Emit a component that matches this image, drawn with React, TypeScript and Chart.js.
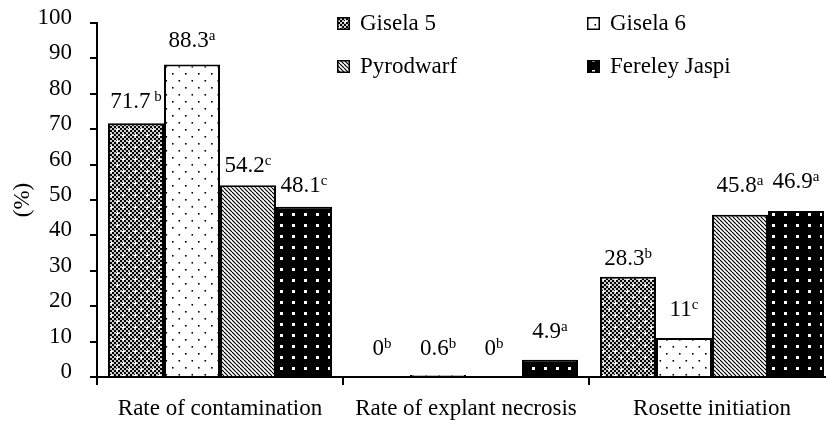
import React, { useEffect, useRef } from 'react';
import { Chart, registerables } from 'chart.js';

Chart.register(...registerables);

// ---- data ----
const categories = ['Rate of contamination', 'Rate of explant necrosis', 'Rosette initiation'];
const seriesNames = ['Gisela 5', 'Gisela 6', 'Pyrodwarf', 'Fereley Jaspi'];
const gisela5 = [71.7, 0, 28.3];
const gisela6 = [88.3, 0.6, 11];
const pyrodwarf = [54.2, 0, 45.8];
const fereleyJaspi = [48.1, 4.9, 46.9];
const gisela5Letters = [' b', 'b', 'b'];
const gisela6Letters = ['a', 'b', 'c'];
const pyrodwarfLetters = ['c', 'b', 'a'];
const fereleyJaspiLetters = ['c', 'a', 'a'];
const yTicks = [0, 10, 20, 30, 40, 50, 60, 70, 80, 90, 100];
const yTitle = '(%)';

// ---- style ----
const FONT = '"Liberation Serif", "Times New Roman", serif';
const MAIN_SIZE = 23;
const SUP_SIZE = 15;
// label baseline lift above bar top (px), per series, per category
const labelLift = [
  [15, 22, 12],
  [17, 20, 22],
  [13, 22, 23],
  [15, 22, 23],
];

function makePattern(kind: string): CanvasPattern | string {
  const c = document.createElement('canvas');
  const g = c.getContext('2d');
  if (!g) return '#000';
  if (kind === 'checker') {
    c.width = 12; c.height = 12;
    g.fillStyle = '#fff'; g.fillRect(0, 0, 12, 12);
    g.fillStyle = '#000';
    for (let y = 0; y < 12; y += 2)
      for (let x = 0; x < 12; x += 2)
        if (((x + y) / 2) % 2 === 0) g.fillRect(x, y, 2, 2);
    g.fillStyle = 'rgba(0,0,0,0.2)';
    g.fillRect(0, 0, 12, 12);
    g.fillStyle = '#fff';
    g.fillRect(2, 3, 3, 1); g.fillRect(3, 2, 1, 3);
    g.fillRect(8, 9, 3, 1); g.fillRect(9, 8, 1, 3);
  } else if (kind === 'dots') {
    c.width = 13; c.height = 14;
    g.fillStyle = '#fff'; g.fillRect(0, 0, 13, 14);
    g.fillStyle = '#000';
    g.fillRect(3, 3, 1.6, 1.6);
    g.fillRect(9.5, 10, 1.6, 1.6);
  } else if (kind === 'diag') {
    c.width = 4; c.height = 4;
    g.fillStyle = '#fff'; g.fillRect(0, 0, 4, 4);
    g.strokeStyle = '#000';
    g.lineWidth = 1.2;
    for (const o of [-4, 0, 4]) {
      g.beginPath();
      g.moveTo(o, 0);
      g.lineTo(o + 4, 4);
      g.stroke();
    }
  } else {
    c.width = 12; c.height = 11;
    g.fillStyle = '#000'; g.fillRect(0, 0, 12, 11);
    g.fillStyle = '#fff';
    g.fillRect(4, 4, 3, 3);
  }
  const p = g.createPattern(c, 'repeat');
  return p || '#000';
}

export default function App() {
  const ref = useRef<HTMLCanvasElement | null>(null);

  useEffect(() => {
    document.body.style.margin = '0';
    const canvas = ref.current;
    if (!canvas) return;
    let chart: Chart | null = null;
    let cancelled = false;

    const build = () => {
      if (cancelled) return;
      const fills = [makePattern('checker'), makePattern('dots'), makePattern('diag'), makePattern('solid')];
      const values = [gisela5, gisela6, pyrodwarf, fereleyJaspi];
      const letters = [gisela5Letters, gisela6Letters, pyrodwarfLetters, fereleyJaspiLetters];

      const labelPlugin = {
        id: 'valueLabels',
        afterDatasetsDraw(ch: any) {
          const ctx = ch.ctx as CanvasRenderingContext2D;
          ch.data.datasets.forEach((ds: any, di: number) => {
            const meta = ch.getDatasetMeta(di);
            meta.data.forEach((bar: any, i: number) => {
              const main = String(ds.data[i]);
              const sup = letters[di][i];
              ctx.save();
              ctx.fillStyle = '#000';
              ctx.textBaseline = 'alphabetic';
              ctx.textAlign = 'left';
              ctx.font = `${MAIN_SIZE}px ${FONT}`;
              const wm = ctx.measureText(main).width;
              ctx.font = `${SUP_SIZE}px ${FONT}`;
              const ws = ctx.measureText(sup).width;
              const x0 = bar.x - (wm + ws) / 2;
              const base = bar.y - labelLift[di][i];
              ctx.font = `${MAIN_SIZE}px ${FONT}`;
              ctx.fillText(main, x0, base);
              ctx.font = `${SUP_SIZE}px ${FONT}`;
              ctx.fillText(sup, x0 + wm, base - 7);
              ctx.restore();
            });
          });
        },
      };

      const legendPlugin = {
        id: 'gridLegend',
        afterDraw(ch: any) {
          const ctx = ch.ctx as CanvasRenderingContext2D;
          const colX = [337, 587];
          const rowBase = [30, 73];
          ch.data.datasets.forEach((ds: any, i: number) => {
            const bx = colX[i % 2];
            const base = rowBase[Math.floor(i / 2)];
            const size = 13;
            ctx.save();
            ctx.fillStyle = ds.backgroundColor;
            ctx.fillRect(bx, base - size, size, size);
            ctx.strokeStyle = '#000';
            ctx.lineWidth = 1.5;
            ctx.strokeRect(bx + 0.75, base - size + 0.75, size - 1.5, size - 1.5);
            ctx.fillStyle = '#000';
            ctx.font = `${MAIN_SIZE}px ${FONT}`;
            ctx.textBaseline = 'alphabetic';
            ctx.textAlign = 'left';
            ctx.fillText(ds.label, bx + 23, base);
            ctx.restore();
          });
        },
      };

      chart = new Chart(canvas, {
        type: 'bar',
        data: {
          labels: categories,
          datasets: seriesNames.map((name, i) => ({
            label: name,
            data: values[i],
            backgroundColor: fills[i] as any,
            borderColor: '#000',
            borderWidth: 2,
            categoryPercentage: 224 / 246,
            barPercentage: 1,
          })),
        },
        options: {
          animation: false,
          responsive: false,
          devicePixelRatio: 1,
          layout: { padding: { top: 23, right: 7, left: 0, bottom: 0 } },
          plugins: {
            legend: { display: false },
            tooltip: { enabled: false },
          },
          scales: {
            x: {
              offset: true,
              grid: {
                offset: true,
                drawOnChartArea: false,
                drawTicks: true,
                tickLength: 8,
                color: '#000',
                lineWidth: 2,
              },
              border: { display: true, color: '#000', width: 2 },
              ticks: {
                color: '#000',
                font: { family: FONT, size: MAIN_SIZE },
                padding: 10,
                maxRotation: 0,
                autoSkip: false,
              },
              afterFit(scale: any) {
                scale.height = 44;
                scale.paddingLeft = 0;
                scale.paddingRight = 0;
              },
            },
            y: {
              min: 0,
              max: 100,
              grid: {
                drawOnChartArea: false,
                drawTicks: true,
                tickLength: 7,
                color: '#000',
                lineWidth: 2,
              },
              border: { display: true, color: '#000', width: 2 },
              ticks: {
                color: '#000',
                font: { family: FONT, size: MAIN_SIZE },
                padding: 18,
                labelOffset: -5,
                autoSkip: false,
              },
              afterBuildTicks(scale: any) { scale.ticks = yTicks.map((v) => ({ value: v })); },
              title: {
                display: true,
                text: yTitle,
                color: '#000',
                font: { family: FONT, size: MAIN_SIZE },
                padding: { top: 9, bottom: 0 },
              },
              afterFit(scale: any) {
                scale.width = 97;
                scale.paddingTop = 0;
                scale.paddingBottom = 0;
              },
            },
          },
        },
        plugins: [labelPlugin, legendPlugin],
      });
    };

    const fl = (document as any).fonts;
    if (fl && fl.load) {
      fl.load(`${MAIN_SIZE}px "Liberation Serif"`).then(build, build);
    } else {
      build();
    }

    return () => {
      cancelled = true;
      if (chart) chart.destroy();
    };
  }, []);

  return (
    <div style={{ position: 'absolute', left: 0, top: 0, width: 826, height: 421, overflow: 'hidden', background: '#fff' }}>
      <canvas ref={ref} width={842} height={421} style={{ display: 'block' }} />
    </div>
  );
}
